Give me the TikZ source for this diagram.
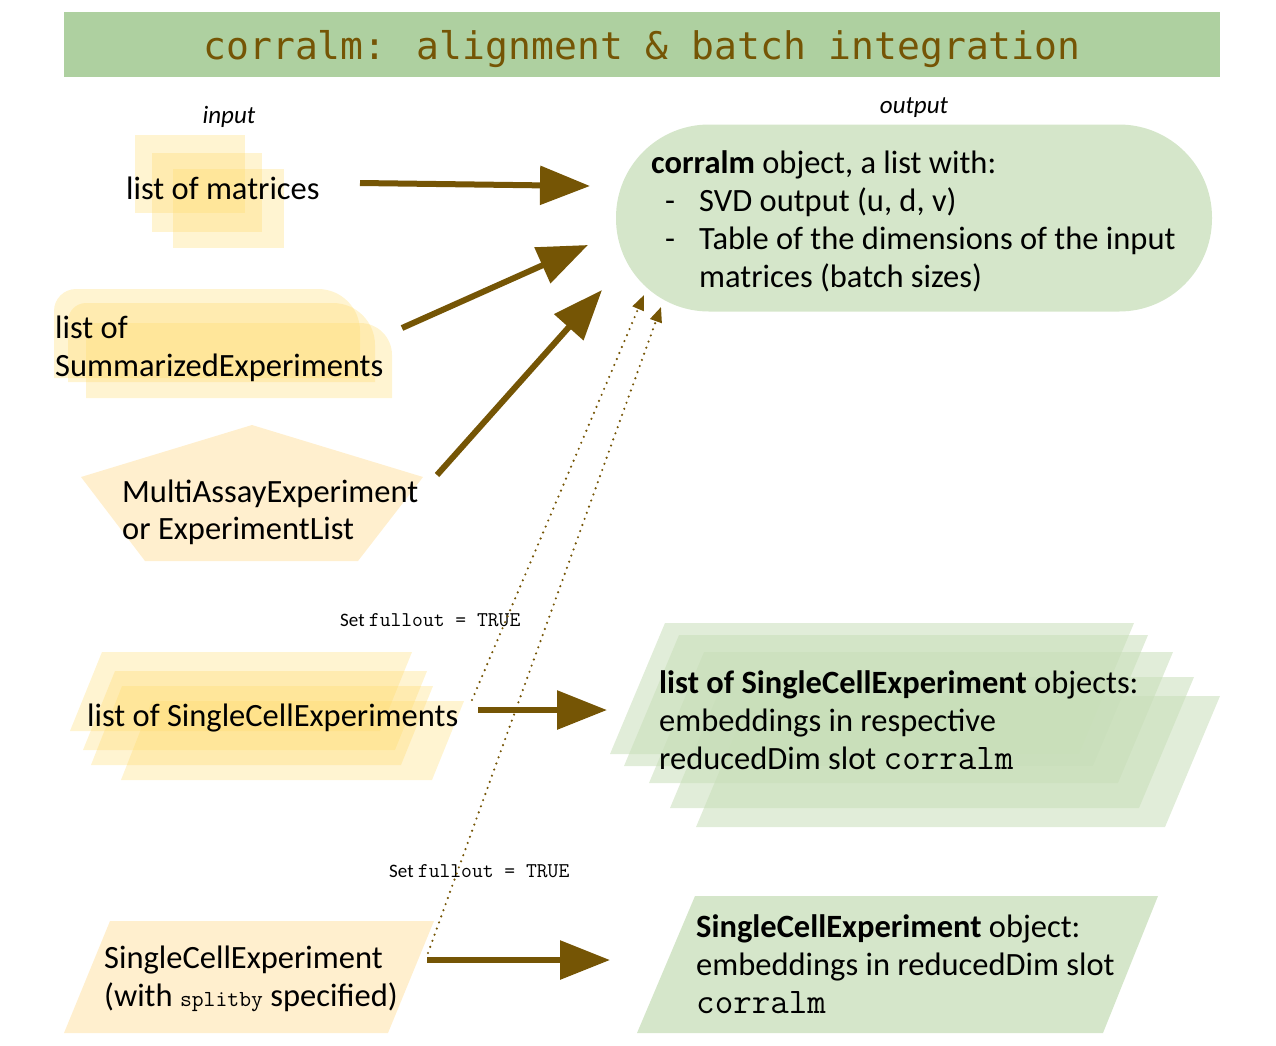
\documentclass[tikz,border=0pt]{standalone}
\usepackage{fontspec}
\setmainfont{Carlito}
\newcommand\mono{\ttfamily}
\newfontfamily\titlefont{DejaVu Sans Mono}
\usetikzlibrary{arrows.meta}
\definecolor{brn}{RGB}{117,85,5}
\definecolor{tbar}{RGB}{174,208,160}
\definecolor{yelA}{RGB}{255,217,102}
\definecolor{yelS}{RGB}{255,239,206}
\definecolor{grnA}{RGB}{200,222,185}
\definecolor{grnS}{RGB}{213,230,202}
\newcommand\rtshape[6]{\fill[lay] (#1,#4) -- ({#1},{#3+#5}) .. controls ({#1},{#3+0.448*#5}) and ({#1+0.448*#5},{#3}) .. ({#1+#5},{#3}) -- ({#2-#6},{#3}) .. controls ({#2-0.448*#6},{#3}) and ({#2},{#3+0.448*#6}) .. ({#2},{#3+#6}) -- (#2,#4) -- cycle;}
\begin{document}
\begin{tikzpicture}[x=1pt,y=-1pt,
  lay/.style={fill=yelA, fill opacity=0.3},
  glay/.style={fill=grnA, fill opacity=0.55},
  txt/.style={anchor=base west, inner sep=0pt, font=\fontsize{32.5}{38}\selectfont},
  smalltxt/.style={anchor=base west, inner sep=0pt, font=\fontsize{19}{22}\selectfont},
  lbl/.style={anchor=base, inner sep=0pt, font=\itshape\fontsize{25}{28}\selectfont},
  bigarr/.style={draw=brn, line width=6pt, -{Triangle[length=50pt,width=38pt]}},
  dotarr/.style={draw=brn, line width=2.4pt, dash pattern=on 0pt off 6.5pt, line cap=round, -{Triangle[length=15pt,width=12pt]}},
]
\useasboundingbox (0,0) rectangle (1276,1045);

% title bar
\node[fill=tbar, minimum width=1156pt, minimum height=65pt, inner sep=0pt] (bar) at (642,44.5) {};
\node[anchor=base, inner sep=0pt, text=brn, font=\titlefont\fontsize{38}{40}\selectfont] (title) at (642,59) {corralm: alignment \& batch integration};

\node[lbl] (inlbl) at (229,123) {input};
\node[lbl] (outlbl) at (914,113) {output};

% list of matrices
\fill[lay] (135,135) rectangle (245,213);
\fill[lay] (152,153) rectangle (262,232);
\fill[lay] (173,169) rectangle (284,248);
\node[txt] (mat) at (126,199) {list of matrices};

% summarized experiments
\rtshape{54}{360}{289}{378}{22}{42}
\rtshape{68}{375}{303}{382}{18}{42}
\rtshape{86}{392}{323}{398}{0}{32}
\node[txt] (se1) at (55,338) {list of};
\node[txt] (se2) at (55,376) {SummarizedExperiments};

% MAE pentagon
\fill[yelS] (252,425) -- (423,477) -- (358,561) -- (145,561) -- (81,477) -- cycle;
\node[txt] (mae1) at (122,502) {MultiAssayExperiment};
\node[txt] (mae2) at (122,539) {or ExperimentList};

% list of SCE (input)
\fill[lay] (102,652) -- (412,652) -- (380,731) -- (70,731) -- cycle;
\fill[lay] (115,671) -- (427,671) -- (395,750) -- (83,750) -- cycle;
\fill[lay] (122,686) -- (433,686) -- (401,765) -- (91,765) -- cycle;
\fill[lay] (152,701) -- (464,701) -- (432,780) -- (121,780) -- cycle;
\node[txt] (lsce) at (87,726) {list of SingleCellExperiments};

% single SCE (input)
\fill[yelS] (110,921) -- (434,921) -- (388,1033) -- (64,1033) -- cycle;
\node[txt] (sce1) at (104,968) {SingleCellExperiment};
\node[txt] (sce2) at (104,1006) {(with {\mono\fontsize{23}{24}\selectfont splitby} specified)};

% output oval
\node[fill=grnS, rounded corners=93pt, minimum width=596pt, minimum height=187pt, inner sep=0pt] (oval) at (914,218) {};
\node[txt] (o1) at (651,173) {\textbf{corralm} object, a list with:};
\node[txt] (o2d) at (665,211) {-};
\node[txt] (o2) at (699,211) {SVD output (u, d, v)};
\node[txt] (o3d) at (665,249) {-};
\node[txt] (o3) at (699,249) {Table of the dimensions of the input};
\node[txt] (o4) at (699,287) {matrices (batch sizes)};

% output list of SCE stack
\fill[glay] (665,623) -- (1134,623) -- (1079,754) -- (610,754) -- cycle;
\fill[glay] (679,635) -- (1148,635) -- (1093,766) -- (624,766) -- cycle;
\fill[glay] (704,652) -- (1173,652) -- (1118,783) -- (649,783) -- cycle;
\fill[glay] (725,677) -- (1194,677) -- (1139,808) -- (670,808) -- cycle;
\fill[glay] (751,696) -- (1220,696) -- (1165,827) -- (696,827) -- cycle;
\node[txt] (ls1) at (659,693) {\textbf{list of SingleCellExperiment} objects:};
\node[txt] (ls2) at (659,731) {embeddings in respective};
\node[txt] (ls3) at (659,769) {reducedDim slot {\mono\fontsize{36}{38}\selectfont corralm}};

% output single SCE
\fill[grnS] (695,896) -- (1158,896) -- (1103,1033) -- (637,1033) -- cycle;
\node[txt] (ss1) at (696,937) {\textbf{SingleCellExperiment} object:};
\node[txt] (ss2) at (696,975) {embeddings in reducedDim slot};
\node[txt] (ss3) at (696,1013) {\mono\fontsize{36}{38}\selectfont corralm};

% labels
\node[smalltxt] (f1) at (340,626) {Set {\mono\fontsize{21}{22}\selectfont fullout = TRUE}};
\node[smalltxt] (f2) at (389,877) {Set {\mono\fontsize{21}{22}\selectfont fullout = TRUE}};

% arrow endpoints
\coordinate (a1s) at (360,183); \coordinate (a1e) at (590,186);
\coordinate (a2s) at (402,328); \coordinate (a2e) at (588,245);
\coordinate (a3s) at (437,475); \coordinate (a3e) at (602,290);
\coordinate (a4s) at (478,710); \coordinate (a4e) at (607,710);
\coordinate (a5s) at (427,960); \coordinate (a5e) at (610,960);
\coordinate (d1s) at (472,700); \coordinate (d1e) at (644,295);
\coordinate (d2s) at (428,953); \coordinate (d2e) at (661,307);

\draw[bigarr] (a1s) -- (a1e);
\draw[bigarr] (a2s) -- (a2e);
\draw[bigarr] (a3s) -- (a3e);
\draw[bigarr] (a4s) -- (a4e);
\draw[bigarr] (a5s) -- (a5e);
\draw[dotarr] (d1s) -- (d1e);
\draw[dotarr] (d2s) -- (d2e);
\end{tikzpicture}
\end{document}
